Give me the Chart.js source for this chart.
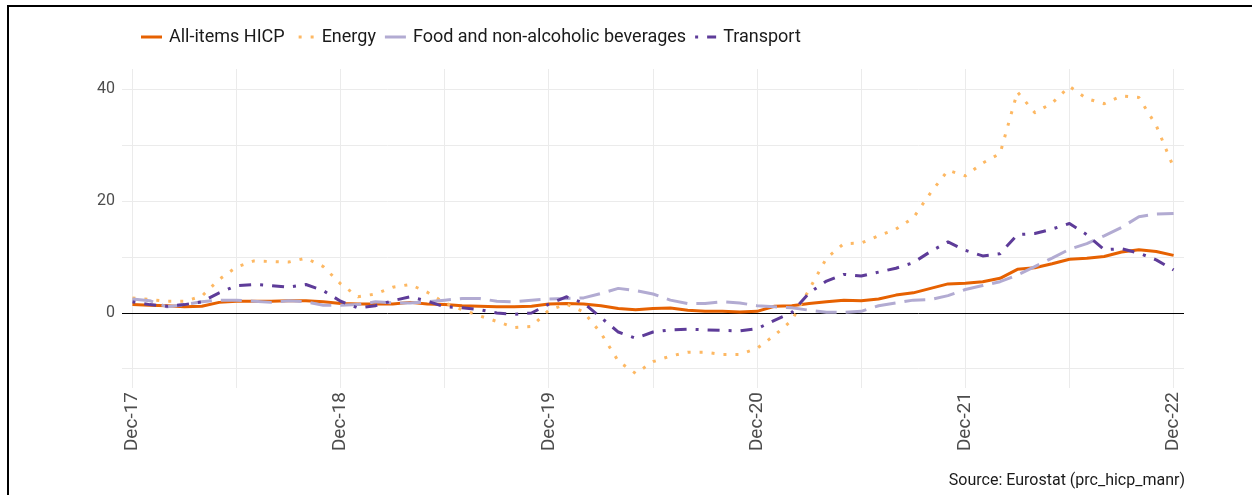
<!DOCTYPE html>
<html>
<head>
<meta charset="utf-8">
<script src="https://cdn.jsdelivr.net/npm/chart.js@4.4.1/dist/chart.umd.min.js"></script>
<style>
  html, body { margin: 0; padding: 0; background: #fff; }
</style>
</head>
<body>
<canvas id="graficoHicp" width="1252" height="495"></canvas>
<script>
// monthly annual rates, Dec-17 .. Dec-22
const months = [
  'Dec-17','Jan-18','Feb-18','Mar-18','Apr-18','May-18','Jun-18','Jul-18','Aug-18','Sep-18','Oct-18','Nov-18',
  'Dec-18','Jan-19','Feb-19','Mar-19','Apr-19','May-19','Jun-19','Jul-19','Aug-19','Sep-19','Oct-19','Nov-19',
  'Dec-19','Jan-20','Feb-20','Mar-20','Apr-20','May-20','Jun-20','Jul-20','Aug-20','Sep-20','Oct-20','Nov-20',
  'Dec-20','Jan-21','Feb-21','Mar-21','Apr-21','May-21','Jun-21','Jul-21','Aug-21','Sep-21','Oct-21','Nov-21',
  'Dec-21','Jan-22','Feb-22','Mar-22','Apr-22','May-22','Jun-22','Jul-22','Aug-22','Sep-22','Oct-22','Nov-22',
  'Dec-22'
];

const allItems = [
  1.5, 1.4, 1.3, 1.1, 1.2, 1.9, 2.1, 2.1, 2.1, 2.2, 2.2, 2.0,
  1.7, 1.6, 1.6, 1.6, 1.9, 1.6, 1.5, 1.3, 1.2, 1.1, 1.1, 1.2,
  1.6, 1.7, 1.6, 1.3, 0.8, 0.6, 0.8, 0.9, 0.5, 0.3, 0.3, 0.2,
  0.3, 1.2, 1.3, 1.7, 2.0, 2.3, 2.2, 2.5, 3.2, 3.6, 4.4, 5.2,
  5.3, 5.6, 6.2, 7.8, 8.1, 8.8, 9.6, 9.8, 10.1, 10.9, 11.3, 11.0,
  10.3
];

const energy = [
  2.7, 2.4, 2.1, 2.1, 3.0, 6.0, 8.2, 9.3, 9.2, 9.1, 9.8, 8.3,
  5.2, 2.9, 3.4, 4.6, 5.1, 3.7, 1.8, 0.6, -0.5, -1.5, -2.6, -2.4,
  0.5, 1.6, 0.2, -3.6, -8.6, -10.8, -8.7, -7.7, -7.0, -7.0, -7.4, -7.4,
  -6.3, -4.0, -1.3, 4.2, 9.8, 12.4, 12.5, 13.8, 15.0, 17.0, 21.5, 25.5,
  24.5, 26.8, 28.5, 39.5, 35.8, 37.5, 40.5, 38.3, 37.4, 38.8, 38.5, 33.5,
  26.0
];

const food = [
  2.5, 2.2, 1.1, 1.5, 2.0, 2.3, 2.3, 2.1, 1.9, 2.2, 2.0, 1.4,
  1.4, 1.5, 2.0, 1.8, 1.8, 2.0, 2.3, 2.6, 2.6, 2.1, 2.0, 2.3,
  2.5, 2.6, 2.7, 3.5, 4.4, 4.0, 3.4, 2.3, 1.7, 1.7, 2.0, 1.8,
  1.3, 1.1, 0.95, 0.5, 0.15, 0.1, 0.3, 1.3, 1.8, 2.3, 2.4, 3.1,
  4.2, 4.9, 5.6, 6.8, 8.3, 9.8, 11.4, 12.4, 13.8, 15.3, 17.2, 17.7,
  17.8
];

const transport = [
  2.0, 1.5, 1.2, 1.5, 2.0, 3.6, 4.9, 5.1, 4.9, 4.6, 5.1, 4.0,
  2.1, 0.9, 1.3, 2.2, 2.9, 2.1, 1.1, 0.95, 0.6, 0.0, -0.25, 0.0,
  1.6, 2.9, 1.8, -0.8, -3.4, -4.5, -3.4, -3.0, -2.9, -3.0, -3.1, -3.2,
  -2.8, -1.3, 0.1, 3.6, 5.7, 6.9, 6.6, 7.3, 8.0, 9.0, 11.0, 12.7,
  11.2, 10.2, 10.6, 14.0, 14.2, 15.0, 16.0, 14.0, 11.3, 11.5, 10.7, 9.5,
  7.7
];

const xGridMonths = [0, 6, 12, 18, 24, 30, 36, 42, 48, 54, 60];
const xTickLabels = ['Dec-17', 'Dec-18', 'Dec-19', 'Dec-20', 'Dec-21', 'Dec-22'];
const yGridValues = [-10, 0, 10, 20, 30, 40];
const yTickLabels = ['0', '20', '40'];

function toPoints(values) {
  return values.map((v, i) => ({ x: i, y: v }));
}

// ggplot-like legend row and the source caption
const extras = {
  id: 'extras',
  afterDraw(chart) {
    const ctx = chart.ctx;
    ctx.save();

    ctx.fillStyle = '#000';
    ctx.fillRect(7, 5, 1245, 2);
    ctx.fillRect(7, 5, 2, 490);

    let x = 141;
    const y = 37;
    ctx.font = '18px Roboto';
    ctx.textBaseline = 'middle';
    chart.data.datasets.forEach(ds => {
      ctx.strokeStyle = ds.borderColor;
      ctx.lineWidth = ds.borderWidth;
      ctx.lineCap = 'butt';
      ctx.setLineDash(ds.borderDash || []);
      ctx.lineDashOffset = ds.legendDashOffset || 0;
      ctx.beginPath();
      ctx.moveTo(x, y);
      ctx.lineTo(x + 21, y);
      ctx.stroke();
      ctx.setLineDash([]);
      ctx.fillStyle = '#1a1a1a';
      ctx.textAlign = 'left';
      ctx.fillText(ds.label, x + 28, y);
      x += 28 + ctx.measureText(ds.label).width + 9;
    });

    ctx.font = '16px Roboto';
    ctx.textAlign = 'right';
    ctx.fillStyle = '#1a1a1a';
    ctx.fillText('Source: Eurostat (prc_hicp_manr)', 1185, 481);
    ctx.restore();
  }
};

const graficoHicp = document.getElementById('graficoHicp');

Chart.defaults.font.family = 'Roboto';

new Chart(graficoHicp, {
  type: 'line',
  data: {
    labels: months,
    datasets: [{
      label: 'All-items HICP',
      data: toPoints(allItems),
      borderColor: '#e66101',
      borderWidth: 3,
      order: 4
    }, {
      label: 'Energy',
      data: toPoints(energy),
      borderColor: '#fdb863',
      borderWidth: 3,
      borderDash: [3, 9],
      legendDashOffset: -5,
      order: 3
    }, {
      label: 'Food and non-alcoholic beverages',
      data: toPoints(food),
      borderColor: '#b2abd2',
      borderWidth: 3,
      borderDash: [21, 9],
      order: 2
    }, {
      label: 'Transport',
      data: toPoints(transport),
      borderColor: '#5e3c99',
      borderWidth: 3,
      borderDash: [3, 9, 12, 9],
      order: 1
    }]
  },
  options: {
    responsive: false,
    animation: false,
    devicePixelRatio: 1,
    layout: { padding: { top: 69, right: 68, left: 0, bottom: 0 } },
    elements: {
      point: { radius: 0 },
      line: { tension: 0, borderCapStyle: 'butt', borderJoinStyle: 'round' }
    },
    plugins: {
      legend: { display: false },
      tooltip: { enabled: false }
    },
    scales: {
      x: {
        type: 'linear',
        min: -0.6,
        max: 60.6,
        afterBuildTicks: s => { s.ticks = xGridMonths.map(v => ({ value: v })); },
        afterFit: s => { s.height = 107; },
        border: { display: false },
        grid: { color: '#ebebeb', lineWidth: 1, drawTicks: false },
        ticks: {
          autoSkip: false,
          minRotation: 90,
          maxRotation: 90,
          padding: 4,
          color: '#4d4d4d',
          font: { size: 19 },
          callback: v => (v % 12 === 0 ? xTickLabels[v / 12] : '')
        }
      },
      y: {
        min: -13.4,
        max: 43.6,
        afterBuildTicks: s => { s.ticks = yGridValues.map(v => ({ value: v })); },
        afterFit: s => { s.width = 122; },
        border: { display: false },
        grid: {
          color: c => (c.tick && c.tick.value === 0 ? '#000' : '#ebebeb'),
          lineWidth: 1,
          drawTicks: false
        },
        ticks: {
          padding: 7,
          color: '#4d4d4d',
          font: { size: 16 },
          callback: v => (v % 20 === 0 ? yTickLabels[v / 20] : '')
        }
      }
    }
  },
  plugins: [extras]
});
</script>
</body>
</html>
